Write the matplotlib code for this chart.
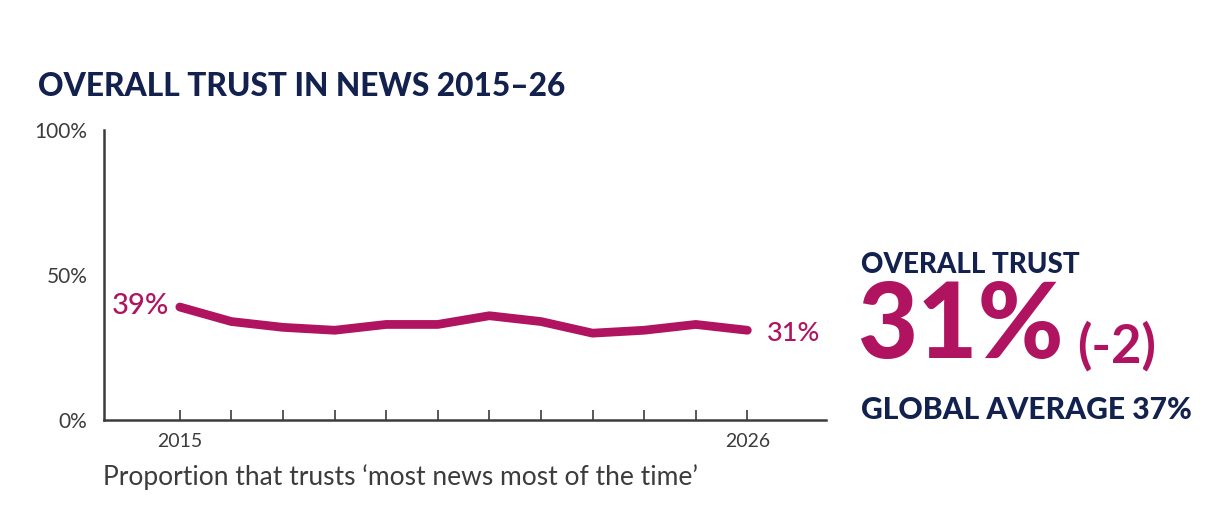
import matplotlib.pyplot as plt

years = list(range(2015, 2027))
trust = [39, 34, 32, 31, 33, 33, 36, 34, 30, 31, 33, 31]
y_ticks = [0, 50, 100]
y_labels = ["0%", "50%", "100%"]
x_labels = ["2015", "", "", "", "", "", "", "", "", "", "", "2026"]

navy = "#13214f"
magenta = "#b0135f"
grey = "#3c3c3c"

plt.rcParams["font.family"] = ["Lato", "DejaVu Sans"]

fig = plt.figure(figsize=(12.16, 5.24), dpi=100)
ax = fig.add_axes([0.0855, 0.198, 0.594, 0.554])

ax.plot(years, trust, color=magenta, linewidth=6.3, solid_capstyle="round", solid_joinstyle="round")
ax.set_xlim(2013.53, 2027.53)
ax.set_ylim(0, 100)

ax.set_xticks(years)
ax.set_xticklabels(x_labels, fontsize=14, color=grey)
ax.tick_params(axis="x", direction="in", length=7, width=1.2, color=grey, pad=9)
ax.set_yticks(y_ticks)
ax.set_yticklabels(y_labels, fontsize=15, color=grey)
ax.tick_params(axis="y", length=0, pad=12)

for s in ["top", "right"]:
    ax.spines[s].set_visible(False)
for s in ["left", "bottom"]:
    ax.spines[s].set_color(grey)
    ax.spines[s].set_linewidth(1.8)

# end labels
ax.annotate(f"{trust[0]}%", (years[0], trust[0]), xytext=(-8, 1), textcoords="offset points",
            ha="right", va="center", color=magenta, fontsize=21, fontweight="medium")
ax.annotate(f"{trust[-1]}%", (years[-1], trust[-1]), xytext=(14, -2), textcoords="offset points",
            ha="left", va="center", color=magenta, fontsize=19.5, fontweight="medium")

fig.text(0.031, 0.835, "OVERALL TRUST IN NEWS 2015–26", color=navy, fontsize=22.8,
         fontweight="black", va="center", ha="left")
fig.text(0.085, 0.09, "Proportion that trusts \u2018most news most of the time\u2019",
         color=grey, fontsize=19, va="center", ha="left")

fig.text(0.708, 0.495, "OVERALL TRUST", color=navy, fontsize=20, fontweight="black", va="center")
fig.text(0.705, 0.375, "31%", color=magenta, fontsize=75, fontweight="black", va="center")
fig.text(0.886, 0.34, "(-2)", color=magenta, fontsize=38, fontweight="bold", va="center")
fig.text(0.708, 0.217, "GLOBAL AVERAGE 37%", color=navy, fontsize=21.6, fontweight="black", va="center")

fig.savefig("out.png", dpi=100)
